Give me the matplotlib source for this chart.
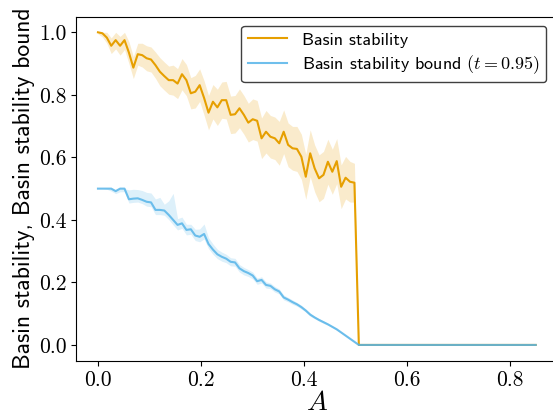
import numpy as np
import matplotlib
matplotlib.use("Agg")
import matplotlib.pyplot as plt

plt.rcParams['mathtext.fontset'] = 'cm'
plt.rcParams['axes.unicode_minus'] = False

# x grid: 100 values of A between 0 and 0.85
A = np.linspace(0, 0.85, 100)

# basin stability (nonzero part, first 59 points), rest is zero
bs_vals = [1.000, 0.997, 0.983, 0.957, 0.975, 0.957, 0.975, 0.935, 0.887, 0.930,
           0.927, 0.917, 0.913, 0.895, 0.874, 0.860, 0.847, 0.847, 0.836, 0.866,
           0.847, 0.805, 0.810, 0.831, 0.790, 0.743, 0.778, 0.760, 0.783, 0.783,
           0.736, 0.738, 0.757, 0.736, 0.711, 0.722, 0.717, 0.661, 0.682, 0.666,
           0.661, 0.645, 0.682, 0.640, 0.629, 0.627, 0.602, 0.538, 0.613, 0.565,
           0.533, 0.544, 0.586, 0.554, 0.588, 0.506, 0.535, 0.522, 0.519]
bs_err = [0.005, 0.012, 0.018, 0.025, 0.028, 0.030, 0.030, 0.035, 0.035, 0.035,
          0.038, 0.040, 0.040, 0.042, 0.045, 0.045, 0.045, 0.048, 0.048, 0.050,
          0.050, 0.050, 0.052, 0.052, 0.055, 0.055, 0.055, 0.058, 0.058, 0.060,
          0.060, 0.060, 0.062, 0.062, 0.062, 0.065, 0.065, 0.065, 0.068, 0.068,
          0.068, 0.070, 0.070, 0.070, 0.070, 0.072, 0.072, 0.072, 0.075, 0.075,
          0.075, 0.075, 0.072, 0.072, 0.072, 0.070, 0.068, 0.065, 0.062]

# basin stability bound (t = 0.95)
bound_vals = [0.500, 0.500, 0.500, 0.500, 0.492, 0.500, 0.500, 0.466, 0.468, 0.469,
              0.464, 0.458, 0.456, 0.432, 0.432, 0.430, 0.416, 0.400, 0.384, 0.389,
              0.368, 0.370, 0.350, 0.346, 0.355, 0.323, 0.305, 0.290, 0.282, 0.276,
              0.266, 0.264, 0.245, 0.236, 0.230, 0.222, 0.204, 0.208, 0.192, 0.189,
              0.178, 0.171, 0.152, 0.145, 0.137, 0.130, 0.121, 0.110, 0.097, 0.088,
              0.080, 0.073, 0.066, 0.058, 0.050, 0.040, 0.030, 0.020, 0.010]
bound_lo = [0.000, 0.000, 0.002, 0.008, 0.008, 0.010, 0.010, 0.012, 0.012, 0.012,
            0.012, 0.014, 0.014, 0.015, 0.015, 0.015, 0.015, 0.016, 0.016, 0.016,
            0.016, 0.016, 0.016, 0.016, 0.016, 0.015, 0.015, 0.014, 0.014, 0.013,
            0.013, 0.012, 0.012, 0.012, 0.011, 0.011, 0.010, 0.010, 0.010, 0.009,
            0.009, 0.008, 0.008, 0.007, 0.007, 0.006, 0.006, 0.005, 0.005, 0.004,
            0.004, 0.004, 0.003, 0.003, 0.003, 0.002, 0.002, 0.002, 0.001]
bound_hi = [0.000, 0.000, 0.000, 0.000, 0.005, 0.000, 0.000, 0.030, 0.030, 0.028,
            0.030, 0.030, 0.030, 0.035, 0.040, 0.020, 0.045, 0.085, 0.020, 0.020,
            0.018, 0.016, 0.020, 0.025, 0.032, 0.020, 0.018, 0.016, 0.015, 0.014,
            0.013, 0.013, 0.012, 0.012, 0.011, 0.011, 0.010, 0.010, 0.010, 0.009,
            0.009, 0.008, 0.008, 0.007, 0.007, 0.006, 0.006, 0.005, 0.005, 0.004,
            0.004, 0.004, 0.003, 0.003, 0.003, 0.002, 0.002, 0.002, 0.001]

n_zero = len(A) - len(bs_vals)
bs = np.array(bs_vals + [0.0] * n_zero)
bs_e = np.array(bs_err + [0.0] * n_zero)
bd = np.array(bound_vals + [0.0] * n_zero)
bd_lo = np.array(bound_lo + [0.0] * n_zero)
bd_hi = np.array(bound_hi + [0.0] * n_zero)

orange = '#E69F00'
blue = '#56B4E9'

fig = plt.figure(figsize=(5.53, 4.16), dpi=100)
ax = fig.add_axes([0.1376, 0.1332, 0.8707, 0.8267])

ax.plot(A, bs, color=orange, lw=1.5, label='Basin stability')
ax.fill_between(A, bs - bs_e, np.minimum(bs + bs_e, 1.0), color=orange, alpha=0.2, lw=0)
ax.plot(A, bd, color=blue, lw=1.5, alpha=0.85, label=r'Basin stability bound $(t = 0.95)$')
ax.fill_between(A, bd - bd_lo, bd + bd_hi, color=blue, alpha=0.2, lw=0)

ax.set_xticks([0.0, 0.2, 0.4, 0.6, 0.8])
ax.set_yticks([0.0, 0.2, 0.4, 0.6, 0.8, 1.0])
ax.set_xticklabels(['0.0', '0.2', '0.4', '0.6', '0.8'], family='cmr10', fontsize=15.5)
ax.set_yticklabels(['0.0', '0.2', '0.4', '0.6', '0.8', '1.0'], family='cmr10', fontsize=15.5)

ax.set_xlabel(r'$A$', fontsize=20, labelpad=-1)
ax.set_ylabel('Basin stability, Basin stability bound', family='cmss10', fontsize=17, labelpad=3)

leg = ax.legend(loc='upper right', prop={'family': 'cmss10', 'size': 13},
                framealpha=1, fancybox=True, bbox_to_anchor=(0.995, 1.0),
                labelspacing=0.3, borderpad=0.35, handlelength=2.2)
leg.get_frame().set_edgecolor('0.25')

fig.savefig('out.png', dpi=100)
